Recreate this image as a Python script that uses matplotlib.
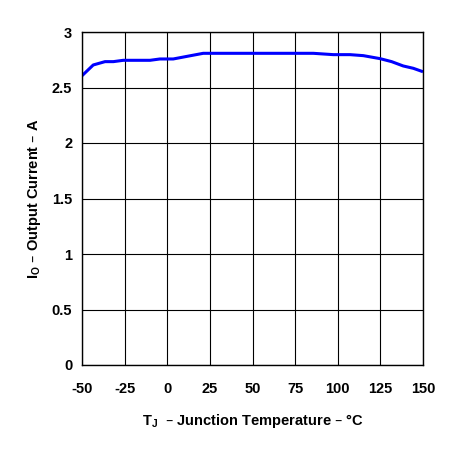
import matplotlib
matplotlib.use("Agg")
import matplotlib.pyplot as plt

# curve
temp_c = [-50, -43.4, -36.5, -31.6, -25.8, -10.1, -4.3, 3.5, 11.4, 21.1,
          50, 85.7, 97.4, 107.2, 115, 124.8, 131.6, 138.4, 144.3, 150]
current_a = [2.606, 2.703, 2.733, 2.733, 2.745, 2.745, 2.757, 2.757, 2.78, 2.808,
             2.808, 2.808, 2.796, 2.796, 2.787, 2.76, 2.733, 2.694, 2.673, 2.642]

x_ticks = [-50, -25, 0, 25, 50, 75, 100, 125, 150]
y_ticks = [0, 0.5, 1, 1.5, 2, 2.5, 3]
y_tick_labels = ["0", "0.5", "1", "1.5", "2", "2.5", "3"]

plt.rcParams['font.family'] = ['Liberation Sans', 'DejaVu Sans']
plt.rcParams['font.weight'] = 'bold'
plt.rcParams['axes.unicode_minus'] = False

fig = plt.figure(figsize=(4.57, 4.53), dpi=100)
ax = fig.add_axes([82 / 457, 1 - 365 / 453, (423 - 82) / 457, (365 - 32) / 453])

ax.plot(temp_c, current_a, color='#0000ff', linewidth=2.2, solid_capstyle='butt')

ax.set_xlim(-50, 150)
ax.set_ylim(0, 3)
ax.set_xticks(x_ticks)
ax.set_yticks(y_ticks)
ax.set_yticklabels(y_tick_labels)
ax.grid(True, color='black', linewidth=0.8)
ax.tick_params(length=0, labelsize=10.5)
ax.tick_params(axis='x', pad=12)
ax.tick_params(axis='y', pad=7)
for s in ax.spines.values():
    s.set_linewidth(1.0)

ax.set_xlabel(r"T$_\mathregular{J}$  – Junction Temperature – °C", fontsize=10.5,
              fontweight='bold', labelpad=12)
ax.set_ylabel(r"I$_\mathregular{O}$ – Output Current – A", fontsize=10.5,
              fontweight='bold', labelpad=6)

fig.savefig("out.png", dpi=100)
